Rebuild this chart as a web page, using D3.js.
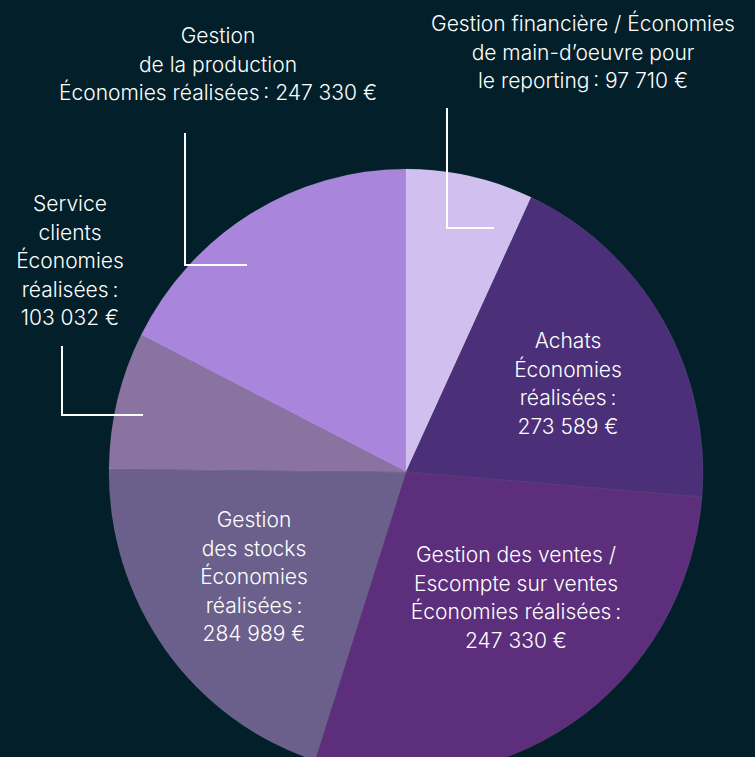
<!DOCTYPE html>
<html>
<head>
<meta charset="utf-8">
<script src="https://cdn.jsdelivr.net/npm/d3@7"></script>
<style>
  html, body { margin: 0; padding: 0; background: #03202a; }
  svg { display: block; }
  text { font-family: Inter, Roboto, "Noto Sans", sans-serif; font-weight: 300; fill: #ffffff; }
</style>
</head>
<body>
<div id="chart"></div>
<script>
  // Slices, clockwise from 12 o'clock
  const categories = [
    'Gestion financière',
    'Achats',
    'Gestion des ventes',
    'Gestion des stocks',
    'Service clients',
    'Gestion de la production'
  ];

  // slice sizes as drawn (the ventes slice is drawn larger than its label says)
  const values = [97710, 273589, 404000, 284989, 103032, 247330];

  const labelLines = [
    ['Gestion financière / Économies', 'de main-d’oeuvre pour', 'le reporting\u202F: 97 710 €'],
    ['Achats', 'Économies', 'réalisées\u202F:', '273 589 €'],
    ['Gestion des ventes /', 'Escompte sur ventes', 'Économies réalisées\u202F:', '247 330 €'],
    ['Gestion', 'des stocks', 'Économies', 'réalisées\u202F:', '284 989 €'],
    ['Service', 'clients', 'Économies', 'réalisées\u202F:', '103 032 €'],
    ['Gestion', 'de la production', 'Économies réalisées\u202F: 247 330 €']
  ];

  const colors = ['#d1bff0', '#4b2f78', '#5d2e7b', '#6b5f8b', '#8a72a1', '#a985dc'];

  const w = 755;
  const h = 757;
  const cx = 406;
  const cy = 472;
  const radius = 300;
  const lineH = 28.5;

  // where each label block starts (first baseline) and its leader line, if any
  const labelPos = [
    { x: 583, y: 31, leader: [[447, 108], [447, 228], [494, 228]] },
    { x: 568, y: 348 },
    { x: 516, y: 562 },
    { x: 254, y: 527 },
    { x: 70, y: 211, leader: [[62, 346], [62, 415], [143, 415]] },
    { x: 218, y: 43, leader: [[185, 133], [185, 265], [247, 265]] }
  ];

  const data = categories.map((c, i) => ({ name: c, value: values[i], lines: labelLines[i] }));

  const svg = d3.select('#chart')
    .append('svg')
    .attr('width', w)
    .attr('height', h);

  const pie = d3.pie()
    .sort(null)
    .value(d => d.value);

  const arc = d3.arc()
    .innerRadius(0)
    .outerRadius(radius);

  const color = d3.scaleOrdinal()
    .domain(categories)
    .range(colors);

  const g = svg.append('g')
    .attr('transform', `translate(${cx}, ${cy}) scale(0.99, 1.01)`);

  g.selectAll('path')
    .data(pie(data))
    .join('path')
    .attr('d', arc)
    .attr('fill', d => color(d.data.name))
    .attr('stroke', 'rgba(255,255,255,0.12)')
    .attr('stroke-width', 0.6);

  // leader lines
  const line = d3.line();
  svg.selectAll('.leader')
    .data(labelPos.filter(p => p.leader))
    .join('path')
    .attr('class', 'leader')
    .attr('d', d => line(d.leader))
    .attr('fill', 'none')
    .attr('stroke', '#ffffff')
    .attr('stroke-width', 2);

  // labels
  svg.selectAll('.label')
    .data(data)
    .join('text')
    .attr('class', 'label')
    .attr('text-anchor', 'middle')
    .attr('font-size', 21)
    .each(function(d, i) {
      d3.select(this).selectAll('tspan')
        .data(d.lines)
        .join('tspan')
        .attr('x', labelPos[i].x)
        .attr('y', (t, j) => labelPos[i].y + j * lineH)
        .text(t => t);
    });
</script>
</body>
</html>
